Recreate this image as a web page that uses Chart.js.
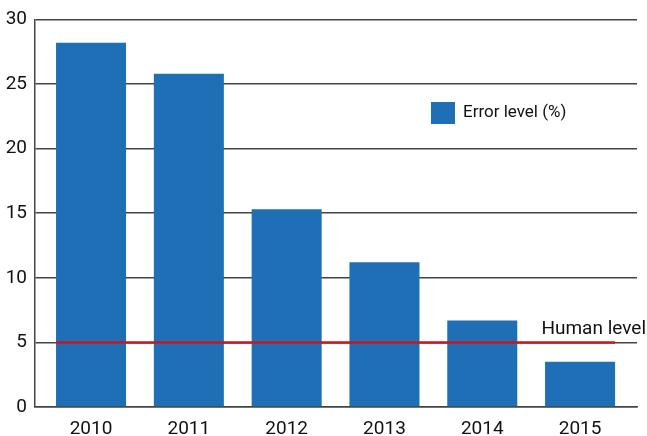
<!DOCTYPE html>
<html>
<head>
<meta charset="utf-8">
<script src="https://cdn.jsdelivr.net/npm/chart.js@4"></script>
<style>
  html, body { margin: 0; padding: 0; background: #fff; }
  #wrap { width: 647px; height: 436px; }
</style>
</head>
<body>
<div id="wrap"><canvas id="error-chart"></canvas></div>
<script>
// data
const years = ["2010", "2011", "2012", "2013", "2014", "2015"];
const errorLevel = [28.2, 25.8, 15.3, 11.2, 6.7, 3.5];
const humanLevel = 5;
const yTicks = [0, 5, 10, 15, 20, 25, 30];

const barColor = "#1f6fb7";
const redColor = "#c8161e";
const gridColor = "#444444";
const barFrac = 0.716;
const fontFamily = "Roboto, sans-serif";

const half = barFrac / 2;

// legend box + "Human level" label
const labelsPlugin = {
  id: "labels",
  afterDatasetsDraw(chart) {
    const ctx = chart.ctx;
    const y = chart.scales.y;
    ctx.save();
    ctx.fillStyle = barColor;
    ctx.fillRect(431, 102, 24, 22);
    ctx.fillStyle = "#111111";
    ctx.font = "17px " + fontFamily;
    ctx.textBaseline = "middle";
    ctx.textAlign = "left";
    ctx.fillText(chart.data.datasets[0].label, 463, 113);
    ctx.font = "19px " + fontFamily;
    ctx.textAlign = "right";
    ctx.textBaseline = "alphabetic";
    ctx.fillText("Human level", 646, y.getPixelForValue(humanLevel) - 8);
    ctx.restore();
  },
};

const config = {
  type: "bar",
  data: {
    datasets: [
      {
        label: "Error level (%)",
        data: errorLevel.map((v, i) => ({ x: i, y: v })),
        backgroundColor: barColor,
        barPercentage: barFrac,
        categoryPercentage: 1,
        order: 2,
      },
      {
        type: "line",
        label: "Human level",
        data: [
          { x: -half, y: humanLevel },
          { x: years.length - 1 + half, y: humanLevel },
        ],
        borderColor: redColor,
        borderWidth: 2.5,
        pointRadius: 0,
        order: 1,
      },
    ],
  },
  options: {
    responsive: true,
    maintainAspectRatio: false,
    animation: false,
    layout: { padding: { top: 15, right: 10, left: 0, bottom: 0 } },
    plugins: { legend: { display: false }, tooltip: { enabled: false } },
    scales: {
      x: {
        type: "linear",
        offset: false,
        min: -0.573,
        max: 5.582,
        grid: { display: false },
        border: { color: gridColor, width: 1.5 },
        afterBuildTicks: (scale) => {
          scale.ticks = years.map((_, i) => ({ value: i }));
        },
        afterFit: (scale) => { scale.height = 29; },
        ticks: {
          autoSkip: false,
          maxRotation: 0,
          padding: 3,
          color: "#111111",
          font: { family: fontFamily, size: 19 },
          callback: (v) => years[v],
        },
      },
      y: {
        min: 0,
        max: 30,
        afterBuildTicks: (scale) => {
          scale.ticks = yTicks.map((v) => ({ value: v }));
        },
        afterFit: (scale) => { scale.width = 35; },
        grid: { color: gridColor, lineWidth: 1.5, drawTicks: false },
        border: { color: gridColor, width: 1.5 },
        ticks: {
          padding: 8,
          color: "#111111",
          font: { family: fontFamily, size: 19 },
        },
      },
    },
  },
  plugins: [labelsPlugin],
};

const errorChart = new Chart(document.getElementById("error-chart"), config);
</script>
</body>
</html>
